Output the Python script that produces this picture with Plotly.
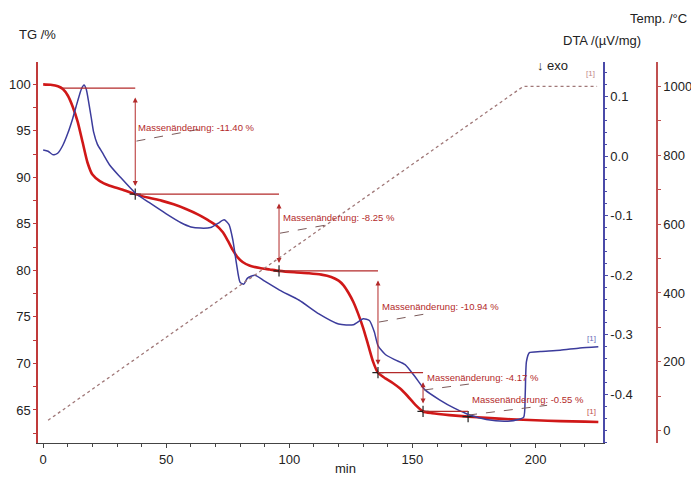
import plotly.graph_objects as go

# --- TG curve (mass, %) ---
tg_time = [0, 3, 6, 8, 10, 12, 14, 16, 18, 20, 23, 27, 32, 37.4, 43, 48, 53, 58, 63, 67, 70,
           73, 75, 77, 79, 81, 84, 88, 92, 95.8, 102, 108, 113, 117, 120, 122, 124, 126, 128,
           130, 132, 134, 136, 139, 142, 145, 148, 151, 154.3, 158, 165, 172.6, 180, 190,
           200, 210, 220, 225.5]
tg_mass = [100.0, 99.95, 99.8, 99.5, 98.8, 97.6, 96.0, 93.8, 91.6, 90.3, 89.6, 89.1, 88.7,
           88.2, 87.8, 87.5, 87.1, 86.6, 86.0, 85.4, 84.9, 84.1, 83.2, 82.2, 81.4, 80.9, 80.5,
           80.25, 80.1, 79.95, 79.8, 79.7, 79.55, 79.3, 78.9, 78.4, 77.6, 76.6, 75.3, 73.8,
           72.0, 70.2, 69.0, 68.4, 67.9, 67.3, 66.5, 65.6, 64.84, 64.65, 64.45, 64.29, 64.15,
           64.0, 63.9, 63.8, 63.75, 63.7]

# --- DTA curve (uV/mg) ---
dta_time = [0, 2, 4, 6, 8, 10, 12, 14, 15.5, 16.6, 17.5, 18.5, 19.5, 20.5, 22, 24, 27, 31,
            37.4, 43, 50, 56, 60, 64, 68, 71, 73.5, 75.5, 77, 78.5, 80, 81.5, 83, 86, 90, 96,
            104, 112, 120, 126, 130, 132.5, 134.5, 136, 139, 143, 147, 151, 155, 161, 167,
            173, 180, 188, 193, 195.2, 195.8, 196.3, 197.5, 202, 210, 218, 225.5]
dta_signal = [0.010, 0.008, 0.002, 0.005, 0.018, 0.038, 0.063, 0.092, 0.112, 0.119, 0.112,
              0.090, 0.065, 0.040, 0.020, 0.006, -0.015, -0.034, -0.062, -0.078, -0.097,
              -0.112, -0.119, -0.121, -0.120, -0.113, -0.107, -0.115, -0.140, -0.180, -0.212,
              -0.215, -0.205, -0.200, -0.210, -0.225, -0.242, -0.265, -0.282, -0.283, -0.273,
              -0.276, -0.295, -0.318, -0.333, -0.342, -0.350, -0.370, -0.392, -0.409, -0.423,
              -0.434, -0.442, -0.445, -0.442, -0.438, -0.400, -0.345, -0.330, -0.328, -0.326,
              -0.322, -0.320]

# --- Temperature program ---
temp_time = [2, 195, 225]
temp_value = [30, 1000, 1000]

# --- Mass-change steps ---
step_start_level = 99.6
step_changes = [-11.40, -8.25, -10.94, -4.17, -0.55]
step_times = [37.4, 95.8, 136.0, 154.3, 172.6]
line_start_time = 7.7

step_levels = [step_start_level]
for d in step_changes:
    step_levels.append(round(step_levels[-1] + d, 2))

DARKRED = "#b32a2a"
TGRED = "#d01818"
BLUE = "#3c3c9c"
FONT = "Liberation Sans, Arial, sans-serif"

# plot area in pixels
PL, PR, PT, PB = 38, 657, 62, 443
X_END = 603


def px(x):
    return (x - PL) / (PR - PL)


def py(y):
    return (PB - y) / (PB - PT)


fig = go.Figure()

fig.add_trace(go.Scatter(x=temp_time, y=temp_value, yaxis="y3", mode="lines",
                         line=dict(color="#a07878", width=1.3, dash="dot"),
                         hoverinfo="skip", showlegend=False))
fig.add_trace(go.Scatter(x=dta_time, y=dta_signal, yaxis="y2", mode="lines",
                         line=dict(color=BLUE, width=1.5, shape="spline", smoothing=0.6),
                         showlegend=False))
fig.add_trace(go.Scatter(x=tg_time, y=tg_mass, yaxis="y", mode="lines",
                         line=dict(color=TGRED, width=2.6, shape="spline", smoothing=0.6),
                         showlegend=False))

shapes = []
annotations = []

# horizontal level lines and vertical arrows
prev_t = line_start_time
for i, (t, d) in enumerate(zip(step_times, step_changes)):
    top = step_levels[i]
    bottom = step_levels[i + 1]
    shapes.append(dict(type="line", xref="x", yref="y", x0=prev_t, x1=t, y0=top, y1=top,
                       line=dict(color=DARKRED, width=1.2)))
    if abs(d) > 1:
        annotations.append(dict(xref="x", yref="y", axref="x", ayref="y", x=t, y=bottom,
                                ax=t, ay=top, text="", showarrow=True, arrowhead=2,
                                arrowside="end+start", arrowsize=1, arrowwidth=1,
                                arrowcolor=DARKRED, standoff=8, startstandoff=8))
    prev_t = t

# step labels with dashed leader lines
label_pos = [(37.9, 95.4), (96.7, 85.65), (136.9, 76.1), (155.2, 68.45), (173.4, 66.1)]
leader_lines = [((37.9, 93.9), (64.0, 95.2)),
                ((96.2, 84.0), (115.4, 84.9)),
                ((136.4, 74.45), (157.0, 75.4)),
                ((154.8, 67.15), (176.3, 67.9)),
                ((172.6, 64.45), (204.7, 65.5))]
for (lx, ly), d, ((x0, y0), (x1, y1)) in zip(label_pos, step_changes, leader_lines):
    annotations.append(dict(xref="x", yref="y", x=lx, y=ly, xanchor="left", yanchor="middle",
                            text=f"Massenänderung: {d:.2f} %", showarrow=False,
                            font=dict(family=FONT, size=9.5, color=DARKRED)))
    shapes.append(dict(type="line", xref="x", yref="y", x0=x0, y0=y0, x1=x1, y1=y1,
                       line=dict(color="#7a5a5a", width=1, dash="dash")))

fig.add_trace(go.Scatter(x=step_times, y=step_levels[1:], mode="markers",
                         marker=dict(symbol="cross-thin", size=8,
                                     line=dict(color="#202020", width=1.2)),
                         showlegend=False, hoverinfo="skip"))

# axis titles and markers
def txt(x, y, s, size=13, color="#222", xanchor="center"):
    annotations.append(dict(xref="paper", yref="paper", x=px(x), y=py(y), text=s,
                            showarrow=False, xanchor=xanchor, yanchor="middle",
                            font=dict(family=FONT, size=size, color=color)))


txt(17, 35, "TG /%", xanchor="left")
txt(602, 40, "DTA /(µV/mg)")
txt(658, 18, "Temp. /°C")
txt(552, 65, "↓ exo")
txt(345, 468, "min")
txt(590, 73, "[1]", size=8, color="#c08888")
txt(591, 338, "[1]", size=8, color="#6a6ab8")
txt(591, 411, "[1]", size=8, color="#c05050")

x_end_dom = px(X_END)

fig.update_layout(
    width=691, height=480,
    margin=dict(l=PL, r=691 - PR, t=PT, b=480 - PB, pad=0, autoexpand=False),
    paper_bgcolor="white", plot_bgcolor="white",
    font=dict(family=FONT, size=13, color="#222"),
    shapes=shapes, annotations=annotations,
    xaxis=dict(domain=[0, x_end_dom], range=[-2.1, 227.4], showgrid=False, zeroline=False,
               automargin=False,
               showline=True, linecolor="#444", linewidth=1.2, ticks="outside", ticklen=4,
               tickcolor="#444", tickvals=[0, 50, 100, 150, 200],
               minor=dict(dtick=10, ticks="outside", ticklen=3, tickcolor="#444"),
               tickfont=dict(size=13)),
    yaxis=dict(range=[61.45, 102.4], showgrid=False, zeroline=False, showline=True,
               automargin=False,
               linecolor="#c03a3a", linewidth=1.5, ticks="outside", ticklen=3,
               tickcolor="#c03a3a", tickvals=[65, 70, 75, 80, 85, 90, 95, 100],
               minor=dict(dtick=2.5, ticks="outside", ticklen=3, tickcolor="#c03a3a"),
               tickfont=dict(size=13)),
    yaxis2=dict(range=[-0.4815, 0.1577], overlaying="y", side="right", anchor="x",
                automargin=False,
                showgrid=False, zeroline=False, showline=True, linecolor="#4a4aa8",
                linewidth=1.5, ticks="outside", ticklen=3, tickcolor="#4a4aa8",
                tickvals=[-0.4, -0.3, -0.2, -0.1, 0.0, 0.1],
                ticktext=["-0.4", "-0.3", "-0.2", "-0.1", "0.0", "0.1"],
                minor=dict(dtick=0.02, tick0=0, ticks="outside", ticklen=2,
                           tickcolor="#4a4aa8"),
                tickfont=dict(size=13)),
    yaxis3=dict(range=[-36, 1071], overlaying="y", side="right", anchor="free", position=1,
                automargin=False, autoshift=False,
                showgrid=False, zeroline=False, showline=True, linecolor="#c05050",
                linewidth=1.5, ticks="outside", ticklen=3, tickcolor="#c05050",
                tickvals=[0, 200, 400, 600, 800, 1000],
                minor=dict(dtick=100, ticks="outside", ticklen=3, tickcolor="#c05050"),
                tickfont=dict(size=13)),
)

fig.write_html("out.html")
